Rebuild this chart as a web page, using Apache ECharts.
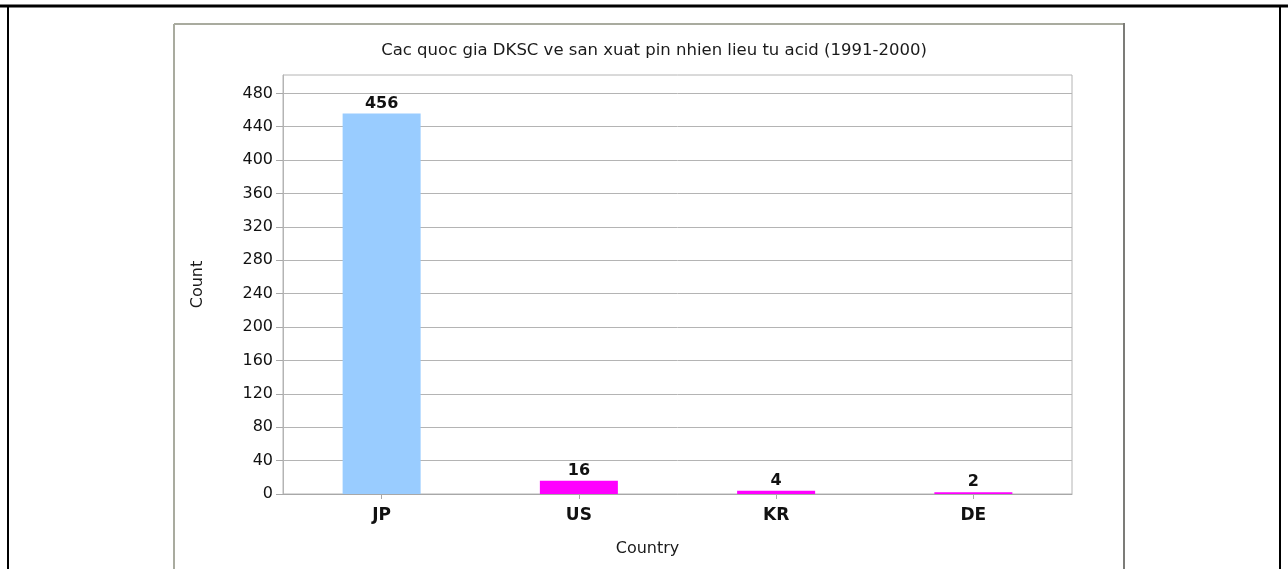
<!DOCTYPE html>
<html>
<head>
<meta charset="utf-8">
<style>
  html, body { margin: 0; padding: 0; background: #ffffff; }
  #chart { width: 1288px; height: 569px; }
</style>
<script src="https://cdn.jsdelivr.net/npm/echarts@6/dist/echarts.min.js"></script>
</head>
<body>
<div id="chart"></div>
<script>
// Patent filings by country, acid fuel cells (1991-2000)
const chartTitle = 'Cac quoc gia DKSC ve san xuat pin nhien lieu tu acid (1991-2000)';
const countries = ['JP', 'US', 'KR', 'DE'];
const counts = [456, 16, 4, 2];
const barColors = ['#99ccff', '#ff00ff', '#ff00ff', '#ff00ff'];
const yTicks = [0, 40, 80, 120, 160, 200, 240, 280, 320, 360, 400, 440, 480];

const chart = echarts.init(document.getElementById('chart'), null, { renderer: 'canvas' });

const font = '"DejaVu Sans", Verdana, sans-serif';

chart.setOption({
  animation: false,
  backgroundColor: '#ffffff',
  title: {
    text: chartTitle,
    left: 649,
    top: 37,
    textAlign: 'center',
    textStyle: { fontFamily: font, fontSize: 16.5, fontWeight: 'normal', color: '#1a1a1a' }
  },
  graphic: [
    // outer frame
    { type: 'line', shape: { x1: 0, y1: 6, x2: 1288, y2: 6 }, style: { stroke: '#000', lineWidth: 3 } },
    { type: 'line', shape: { x1: 8, y1: 6, x2: 8, y2: 569 }, style: { stroke: '#000', lineWidth: 2 } },
    { type: 'line', shape: { x1: 1280, y1: 6, x2: 1280, y2: 569 }, style: { stroke: '#000', lineWidth: 2 } },
    // chart panel
    { type: 'line', shape: { x1: 174, y1: 24, x2: 1124, y2: 24 }, style: { stroke: '#a9ab9f', lineWidth: 2 } },
    { type: 'line', shape: { x1: 174, y1: 24, x2: 174, y2: 569 }, style: { stroke: '#a9ab9f', lineWidth: 2 } },
    { type: 'line', shape: { x1: 1124, y1: 23, x2: 1124, y2: 569 }, style: { stroke: '#7c7c78', lineWidth: 2 } }
  ],
  grid: {
    left: 283,
    top: 75,
    right: 216,
    bottom: 75,
    show: true,
    borderColor: '#b4b4b4',
    borderWidth: 1,
    backgroundColor: 'transparent'
  },
  xAxis: {
    type: 'category',
    data: countries,
    name: 'Country',
    nameLocation: 'middle',
    nameGap: 47,
    nameTextStyle: {
      fontFamily: font, fontSize: 16, color: '#1a1a1a', verticalAlign: 'top',
      padding: [0, 60, 0, 0]
    },
    axisLine: { show: true, lineStyle: { color: '#a8a8a8', width: 1 } },
    axisTick: { show: true, alignWithLabel: true, length: 5, lineStyle: { color: '#a8a8a8' } },
    axisLabel: { margin: 13, fontFamily: font, fontSize: 17, fontWeight: 'bold', color: '#111' },
    splitLine: { show: false }
  },
  yAxis: {
    type: 'value',
    min: 0,
    max: 502,
    interval: 40,
    name: 'Count',
    nameLocation: 'middle',
    nameGap: 77,
    nameRotate: 90,
    nameTextStyle: { fontFamily: font, fontSize: 16, color: '#1a1a1a' },
    axisLine: { show: true, lineStyle: { color: '#b4b4b4' } },
    axisTick: { show: true, length: 7, customValues: yTicks, lineStyle: { color: '#a8a8a8' } },
    axisLabel: { margin: 10, customValues: yTicks, fontFamily: font, fontSize: 16, color: '#111' },
    splitLine: { show: true, lineStyle: { color: '#b4b4b4', width: 1 } }
  },
  series: [{
    type: 'bar',
    barWidth: 78,
    data: counts.map((v, i) => ({ value: v, itemStyle: { color: barColors[i] } })),
    label: {
      show: true,
      position: 'top',
      distance: 2,
      fontFamily: font,
      fontSize: 16,
      fontWeight: 'bold',
      color: '#111'
    }
  }]
});
</script>
</body>
</html>
